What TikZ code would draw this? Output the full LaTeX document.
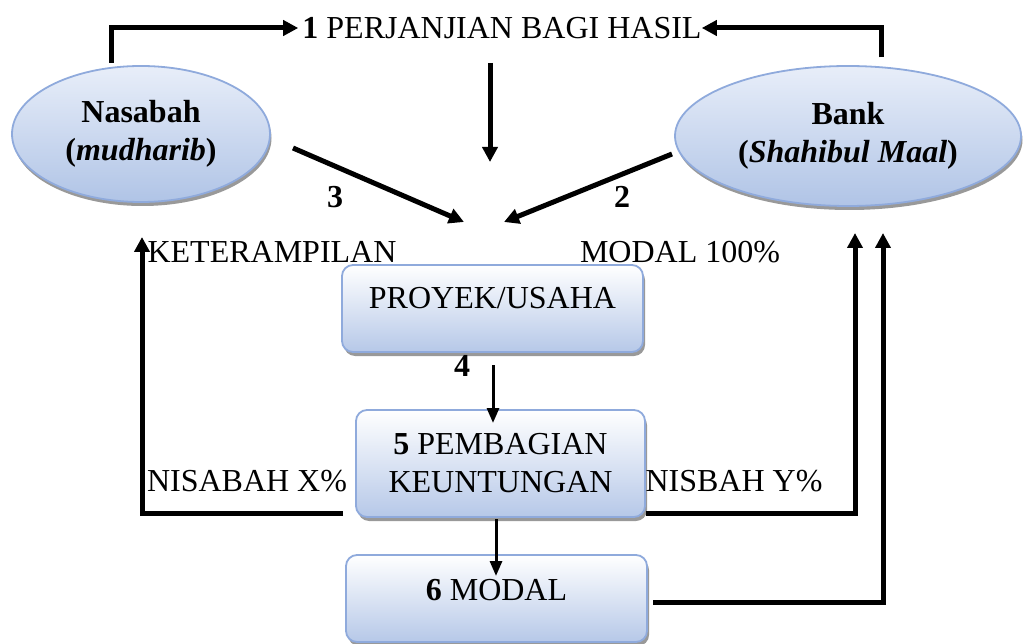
\documentclass[tikz,border=0pt]{standalone}
\usepackage{fontspec}
\setmainfont{Liberation Serif}
\usetikzlibrary{shapes.geometric,shadows,arrows.meta}
\definecolor{bord}{RGB}{143,170,220}
\definecolor{ebot}{RGB}{176,196,230}
\definecolor{etop}{RGB}{232,238,249}
\definecolor{bbot}{RGB}{182,200,232}
\tikzset{
  ell/.style={ellipse,draw=bord,line width=1.8pt,top color=etop,bottom color=ebot,
    inner sep=0pt,align=center,
    drop shadow={shadow xshift=1.5pt,shadow yshift=-4pt,fill=black!50,opacity=.8}},
  boxs/.style={rectangle,rounded corners=11pt,draw=bord,line width=1.8pt,top color=white,bottom color=bbot,
    inner sep=0pt,align=center,
    drop shadow={shadow xshift=2pt,shadow yshift=-4pt,fill=black!50,opacity=.8}},
  txt/.style={inner sep=0pt,align=center},
  arr/.style={line width=5pt,-{Triangle[length=15pt,width=15pt]}},
  arrt/.style={line width=3pt,-{Triangle[length=15pt,width=12pt]}},
}
\begin{document}
\begin{tikzpicture}[x=1pt,y=-1pt,font=\fontsize{32}{38}\selectfont]
\useasboundingbox (0,0) rectangle (1025,644);
% nodes
\node[ell,minimum width=258pt,minimum height=136pt] (nas) at (141,134)
  {\textbf{Nasabah}\\\textbf{(\textit{mudharib})}};
\node[ell,minimum width=346pt,minimum height=140pt] (bank) at (848,136)
  {\textbf{Bank}\\\textbf{(\textit{Shahibul Maal})}};
\node[txt] (title) at (502,28) {\textbf{1} PERJANJIAN BAGI HASIL};
\node[boxs,minimum width=301pt,minimum height=87pt,text height=20pt,text depth=20pt] (proj) at (492.5,308.5) {PROYEK/USAHA};
\node[boxs,minimum width=289pt,minimum height=107pt] (pemb) at (500.5,463.5) {\textbf{5} PEMBAGIAN\\KEUNTUNGAN};
\node[boxs,minimum width=301pt,minimum height=87pt,text height=22pt,text depth=18pt] (modal) at (496.5,598.5) {\textbf{6} MODAL};
% labels
\node[txt] (l3) at (335,197) {\textbf{3}};
\node[txt] (l2) at (622,197) {\textbf{2}};
\node[txt] (l4) at (462,366) {\textbf{4}};
\node[txt] (kt) at (272,252) {KETERAMPILAN};
\node[txt] (md) at (680,252) {MODAL 100\%};
\node[txt] (nx) at (247,481) {NISABAH X\%};
\node[txt] (ny) at (734,481) {NISBAH Y\%};
% coordinates
\coordinate (t1) at (490,63);
\coordinate (t2) at (490,162);
\coordinate (a3s) at (293,148);
\coordinate (a3e) at (464,222);
\coordinate (a2s) at (672,154);
\coordinate (a2e) at (504,222);
\coordinate (a4s) at (493,365);
\coordinate (a4e) at (493,423);
\coordinate (a5s) at (496,519);
\coordinate (a5e) at (496,576);
\coordinate (lx) at (343,513);
\coordinate (ltop) at (142,237);
\coordinate (ry) at (855,233);
\coordinate (rz) at (883,233);
\coordinate (ms) at (653,602);
% connectors
\draw[arr] ([yshift=4pt]nas.114) |- ([xshift=-4pt]title.west);
\draw[arr] ([yshift=9pt]bank.64) |- (title.east);
\draw[arr] (t1) -- (t2);
\draw[arr] (a3s) -- (a3e);
\draw[arr] (a2s) -- (a2e);
\draw[arrt] (a4s) -- (a4e);
\draw[arrt] (a5s) -- (a5e);
\draw[arr] (lx) -| (ltop);
\draw[arr] (pemb.east |- lx) -| (ry);
\draw[arr] (ms) -| (rz);
\end{tikzpicture}
\end{document}
